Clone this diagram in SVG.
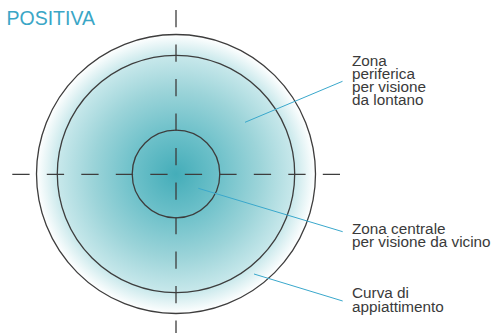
<svg xmlns="http://www.w3.org/2000/svg" width="493" height="333" viewBox="0 0 493 333">
  <defs>
    <radialGradient id="lensGrad" gradientUnits="userSpaceOnUse" cx="176" cy="174" r="139.5">
      <stop offset="0" stop-color="#44adb9"/>
      <stop offset="0.3" stop-color="#6cc0c9"/>
      <stop offset="0.6" stop-color="#9cd4d9"/>
      <stop offset="0.85" stop-color="#c8e8eb"/>
      <stop offset="1" stop-color="#ffffff"/>
    </radialGradient>
    <style>
      .ring { fill: none; stroke: #3d3d3d; stroke-width: 1.3; }
      .axis { stroke: #3d3d3d; stroke-width: 1.3; stroke-dasharray: 17.3 17.2; fill: none; }
      .leader { stroke: #3aa8cc; stroke-width: 1; fill: none; }
      .label { font-family: "Liberation Sans", Arial, sans-serif; font-size: 15.3px; fill: #3a3a3a; }
      .title { font-family: "Liberation Sans", Arial, sans-serif; font-size: 19.5px; fill: #3aa6c6; }
    </style>
  </defs>
  <rect width="493" height="333" fill="#ffffff"/>
  <text id="title" class="title" x="6.5" y="25">POSITIVA</text>

  <g id="lens-outer">
    <circle cx="176" cy="174" r="139.5" fill="url(#lensGrad)" class="ring" style="fill:url(#lensGrad)"/>
  </g>
  <g id="lens-peripheral">
    <circle class="ring" cx="176" cy="174" r="118.7"/>
  </g>
  <g id="lens-central">
    <circle class="ring" cx="176" cy="174" r="43.8"/>
  </g>

  <g id="axes">
    <line class="axis" x1="12.3" y1="174.3" x2="340" y2="174.3"/>
    <line class="axis" x1="176" y1="10" x2="176" y2="340"/>
  </g>

  <g id="connectors">
    <line class="leader" x1="245" y1="122.3" x2="342.5" y2="81.3"/>
    <line class="leader" x1="198.3" y1="188.3" x2="342.7" y2="231.7"/>
    <line class="leader" x1="254" y1="274" x2="342.7" y2="301"/>
  </g>

  <g id="label-periferica">
    <text class="label" x="352" y="65.5">Zona</text>
    <text class="label" x="352" y="78.8">periferica</text>
    <text class="label" x="352" y="92.1">per visione</text>
    <text class="label" x="352" y="105.4">da lontano</text>
  </g>
  <g id="label-centrale">
    <text class="label" x="352" y="234.3">Zona centrale</text>
    <text class="label" x="352" y="247.3">per visione da vicino</text>
  </g>
  <g id="label-curva">
    <text class="label" x="352" y="298.3">Curva di</text>
    <text class="label" x="352" y="311.6">appiattimento</text>
  </g>
</svg>
